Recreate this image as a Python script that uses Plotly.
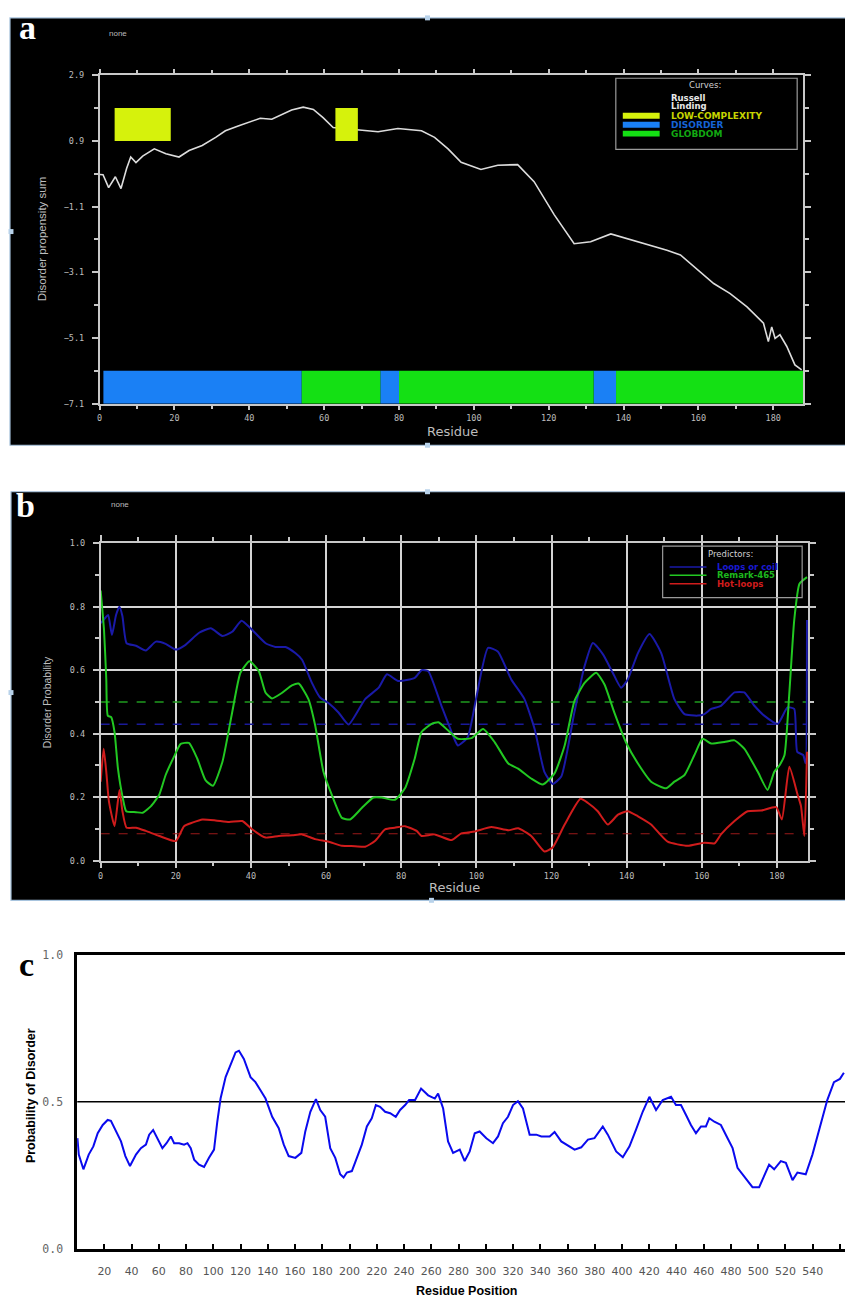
import plotly.graph_objects as go

# ---------------- data: panel a (GlobPlot) ----------------
A_X = [0, 0.9, 2.4, 4.2, 5.7, 7.2, 8.3, 9.7, 11.5, 14.6, 17.7, 21.2, 23.9, 27.4, 31.0, 33.6, 37.2, 39.8, 42.9, 46.0,
       48.7, 51.3, 54.4, 57.1, 59.7, 62.4, 68.7, 74.4, 79.7, 86.0, 89.5, 93.1, 96.6, 101.9, 106.4, 111.7, 116.1, 121.5,
       126.8, 131.2, 136.6, 141.9, 147.2, 151.6, 155.2, 159.6, 164.1, 168.5, 173.0, 177.4, 178.7, 179.6, 180.5, 181.8,
       183.6, 185.8, 187.6]
A_Y = [-0.12, -0.13, -0.52, -0.19, -0.55, 0.06, 0.41, 0.24, 0.44, 0.66, 0.51, 0.41, 0.61, 0.76, 1.01, 1.21, 1.36, 1.46,
       1.59, 1.56, 1.71, 1.84, 1.93, 1.86, 1.61, 1.31, 1.24, 1.18, 1.28, 1.21, 1.01, 0.66, 0.25, 0.03, 0.16, 0.18, -0.34,
       -1.35, -2.23, -2.17, -1.93, -2.10, -2.27, -2.43, -2.57, -3.0, -3.44, -3.75, -4.15, -4.65, -5.21, -4.76, -5.11,
       -5.0, -5.35, -5.92, -6.07]
LOW_COMPLEXITY = [(4, 19), (63, 69)]
DISORDER = [(1, 54), (75, 80), (132, 138)]
GLOBDOM = [(54, 75), (80, 132), (138, 188)]
LOWC_BAND = (0.9, 1.9)
DOMAIN_BAND = (-7.1, -6.1)
A_LEGEND = ["Russell", "Linding", "LOW-COMPLEXITY", "DISORDER", "GLOBDOM"]

# ---------------- data: panel b (DisEMBL) ----------------
B_LOOPS_X = [0, 1.1, 2.0, 3.0, 4.1, 5.0, 5.8, 6.9, 9.4, 12.0, 14.7, 17.3, 20.0, 22.6, 26.2, 29.3, 32.4, 35.0, 37.5,
             39.9, 43.9, 46.5, 49.2, 51.8, 53.6, 56.2, 58.4, 60.7, 63.3, 66.0, 70.4, 74.0, 76.2, 79.2, 83.6, 85.4, 87.2,
             90.7, 94.3, 95.1, 97.7, 99.9, 103.1, 105.7, 109.3, 112.8, 115.5, 118.1, 120.3, 122.6, 126.1, 128.8, 131.0,
             133.7, 136.3, 138.5, 140.3, 143.0, 146.1, 149.2, 152.7, 155.4, 158.9, 160.7, 162.5, 165.1, 168.7, 171.3,
             174.0, 176.6, 180.2, 182.8, 184.6, 185.4, 187.0, 187.6, 188.0]
B_LOOPS_Y = [0.748, 0.763, 0.774, 0.711, 0.774, 0.80, 0.77, 0.685, 0.677, 0.662, 0.690, 0.683, 0.665, 0.680, 0.718,
             0.732, 0.708, 0.721, 0.756, 0.732, 0.685, 0.673, 0.673, 0.654, 0.633, 0.561, 0.514, 0.496, 0.467, 0.429,
             0.509, 0.545, 0.587, 0.566, 0.576, 0.60, 0.597, 0.488, 0.379, 0.363, 0.389, 0.509, 0.670, 0.659, 0.571,
             0.509, 0.415, 0.28, 0.242, 0.265, 0.468, 0.613, 0.686, 0.650, 0.592, 0.545, 0.571, 0.654, 0.714, 0.654,
             0.509, 0.462, 0.457, 0.462, 0.478, 0.488, 0.530, 0.530, 0.488, 0.457, 0.431, 0.483, 0.478, 0.343, 0.333,
             0.307, 0.758]
B_REMARK_X = [0, 0.9, 1.5, 1.9, 2.8, 3.7, 4.6, 5.9, 6.8, 9.4, 11.2, 13.4, 15.6, 17.3, 19.5, 21.3, 23.5, 25.7, 27.9,
              29.9, 32.4, 35.0, 37.2, 39.6, 42.1, 43.9, 45.6, 48.3, 50.9, 52.7, 55.3, 57.1, 59.3, 61.5, 64.2, 66.4,
              69.5, 72.6, 74.8, 78.3, 81.0, 83.6, 85.4, 88.1, 89.9, 92.5, 95.1, 98.7, 101.8, 104.9, 108.5, 111.1,
              114.6, 117.7, 120.8, 123.5, 126.1, 128.8, 131.9, 134.1, 136.7, 139.8, 143.0, 146.5, 150.5, 152.7, 155.4,
              158.0, 160.2, 162.5, 166.0, 168.7, 171.3, 174.9, 177.5, 179.3, 180.7, 182.0, 183.3, 184.6, 186.0, 188.0]
B_REMARK_Y = [0.851, 0.726, 0.571, 0.457, 0.452, 0.405, 0.291, 0.197, 0.156, 0.153, 0.151, 0.172, 0.208, 0.270,
              0.327, 0.368, 0.371, 0.322, 0.254, 0.236, 0.311, 0.467, 0.592, 0.628, 0.597, 0.529, 0.511, 0.529, 0.552,
              0.558, 0.509, 0.426, 0.28, 0.208, 0.135, 0.130, 0.166, 0.199, 0.199, 0.192, 0.228, 0.322, 0.405, 0.431,
              0.436, 0.410, 0.384, 0.386, 0.415, 0.373, 0.306, 0.290, 0.259, 0.240, 0.275, 0.363, 0.503, 0.560, 0.592,
              0.555, 0.467, 0.373, 0.306, 0.249, 0.228, 0.249, 0.270, 0.332, 0.384, 0.369, 0.374, 0.379, 0.353, 0.280,
              0.223, 0.280, 0.301, 0.332, 0.529, 0.758, 0.872, 0.893]
B_HOT_X = [0, 0.8, 1.5, 2.2, 3.7, 5.0, 5.8, 6.9, 9.4, 12.0, 15.6, 20.0, 22.2, 24.4, 27.1, 30.6, 34.2, 37.7, 40.3, 43.9,
           47.4, 51.0, 53.6, 57.1, 60.7, 64.2, 67.7, 70.4, 73.0, 75.7, 78.3, 81.0, 84.1, 85.4, 88.9, 93.4, 96.0, 99.5,
           104.0, 108.5, 111.1, 114.6, 118.1, 120.3, 123.5, 127.7, 129.7, 132.3, 135.0, 137.7, 140.3, 143.0, 146.5,
           150.9, 156.2, 160.7, 163.4, 165.1, 168.7, 172.2, 175.8, 179.8, 181.3, 183.3, 185.5, 186.4, 187.3, 188.0]
B_HOT_Y = [0.249, 0.353, 0.280, 0.187, 0.109, 0.223, 0.156, 0.104, 0.104, 0.094, 0.078, 0.062, 0.109, 0.120, 0.130,
           0.127, 0.122, 0.125, 0.099, 0.073, 0.078, 0.080, 0.083, 0.068, 0.060, 0.047, 0.046, 0.044, 0.062, 0.099,
           0.104, 0.109, 0.094, 0.078, 0.083, 0.065, 0.086, 0.092, 0.106, 0.096, 0.102, 0.078, 0.029, 0.042, 0.114,
           0.195, 0.182, 0.156, 0.114, 0.145, 0.156, 0.140, 0.114, 0.060, 0.047, 0.057, 0.055, 0.083, 0.125, 0.156,
           0.158, 0.169, 0.130, 0.296, 0.208, 0.172, 0.078, 0.343]
B_THRESH = {"loops": 0.43, "remark": 0.5, "hot": 0.085}
B_LEGEND = ["Loops or coil", "Remark-465", "Hot-loops"]

# ---------------- data: panel c ----------------
C_X = [0.2, 1.2, 4.6, 7.1, 8.5, 11.9, 15.1, 18.8, 22.4, 24.8, 28.6, 32.2, 35.4, 38.8, 43.2, 46.8, 50.5, 52.9, 55.8,
       59.0, 62.6, 65.6, 68.8, 71.2, 74.9, 78.5, 81.0, 83.4, 85.9, 89.5, 93.2, 96.8, 100.5, 102.9, 105.3, 109.0, 112.6,
       116.3, 118.8, 122.4, 127.3, 130.9, 134.6, 138.3, 143.2, 148.0, 151.7, 155.3, 160.2, 164.6, 167.5, 171.2, 175.3,
       178.5, 182.1, 185.8, 189.5, 193.1, 195.6, 198.0, 201.7, 205.3, 209.0, 212.7, 216.3, 219.3, 222.4, 226.1, 229.8,
       233.9, 237.1, 240.8, 243.7, 248.1, 252.5, 257.7, 262.6, 265.0, 268.7, 272.3, 276.0, 280.9, 284.5, 288.2, 291.9,
       295.5, 300.4, 305.3, 309.0, 312.6, 316.3, 320.0, 323.6, 327.3, 332.2, 337.1, 340.8, 346.9, 350.5, 355.4, 360.3,
       365.2, 370.1, 375.0, 379.8, 385.9, 389.6, 395.7, 400.6, 405.5, 410.3, 415.2, 420.1, 425.0, 429.9, 436.0, 439.6,
       443.3, 447.0, 450.6, 454.3, 458.0, 461.6, 464.1, 467.8, 472.6, 477.5, 481.2, 484.8, 488.5, 492.2, 495.8, 500.7,
       504.4, 508.0, 511.7, 516.6, 520.3, 525.2, 528.8, 534.9, 539.8, 544.6, 550.7, 555.6, 560.0, 562.9]
C_Y = [0.376, 0.320, 0.270, 0.298, 0.320, 0.348, 0.393, 0.421, 0.438, 0.435, 0.399, 0.365, 0.315, 0.281, 0.320, 0.342,
       0.354, 0.388, 0.404, 0.376, 0.342, 0.359, 0.382, 0.359, 0.359, 0.354, 0.359, 0.342, 0.303, 0.286, 0.278, 0.309,
       0.337, 0.432, 0.511, 0.584, 0.623, 0.668, 0.674, 0.646, 0.584, 0.567, 0.539, 0.511, 0.449, 0.410, 0.354, 0.315,
       0.309, 0.326, 0.399, 0.466, 0.509, 0.472, 0.449, 0.342, 0.309, 0.253, 0.242, 0.259, 0.264, 0.309, 0.354, 0.416,
       0.444, 0.489, 0.483, 0.466, 0.461, 0.449, 0.472, 0.489, 0.506, 0.506, 0.545, 0.522, 0.511, 0.528, 0.477, 0.365,
       0.326, 0.337, 0.298, 0.331, 0.393, 0.399, 0.376, 0.359, 0.382, 0.427, 0.449, 0.489, 0.502, 0.477, 0.388, 0.388,
       0.382, 0.382, 0.397, 0.365, 0.351, 0.337, 0.345, 0.371, 0.376, 0.416, 0.388, 0.331, 0.311, 0.348, 0.405, 0.466,
       0.517, 0.472, 0.506, 0.517, 0.489, 0.489, 0.455, 0.421, 0.393, 0.416, 0.416, 0.444, 0.432, 0.421, 0.376, 0.342,
       0.275, 0.253, 0.230, 0.209, 0.209, 0.247, 0.286, 0.270, 0.298, 0.292, 0.233, 0.259, 0.253, 0.320, 0.404, 0.506,
       0.567, 0.578, 0.599]
C_THRESHOLD = 0.5
C_XTICKS = list(range(20, 561, 20))
C_YTICKS = [0.0, 0.5, 1.0]

assert len(A_X) == len(A_Y)
assert len(B_LOOPS_X) == len(B_LOOPS_Y)
assert len(B_REMARK_X) == len(B_REMARK_Y)
assert len(B_HOT_X) == len(B_HOT_Y)
assert len(C_X) == len(C_Y)

# ---------------- styling ----------------
W, H = 845, 1306
def fx(p): return p / W
def fy(p): return 1 - p / H

YELLOW = "#d6f20c"
BLUE_A = "#1a80f5"
GREEN_A = "#14e014"
GREY = "#c8c8c8"
TICKFONT = dict(family="DejaVu Sans Mono", size=8.5, color="#bdbdbd")
BLUE_B, GREEN_B, RED_B = "#1a1aa8", "#22c822", "#d01c1c"

fig = go.Figure()

def segs(segments, y0, y1):
    xs, ys = [], []
    for a, b in segments:
        xs += [a, b, b, a, a, None]
        ys += [y0, y0, y1, y1, y0, None]
    return xs, ys

# panel a traces
for segments, (y0, y1), col in [(DISORDER, DOMAIN_BAND, BLUE_A), (GLOBDOM, DOMAIN_BAND, GREEN_A)]:
    xs, ys = segs(segments, y0, y1)
    fig.add_trace(go.Scatter(x=xs, y=ys, fill="toself", fillcolor=col, mode="none",
                             xaxis="x", yaxis="y", hoverinfo="skip"))
fig.add_trace(go.Scatter(x=A_X, y=A_Y, mode="lines", line=dict(color="#dcdcdc", width=1.6),
                         xaxis="x", yaxis="y", name="Russell Linding"))
xs, ys = segs(LOW_COMPLEXITY, *LOWC_BAND)
fig.add_trace(go.Scatter(x=xs, y=ys, fill="toself", fillcolor=YELLOW, mode="none",
                         xaxis="x", yaxis="y", hoverinfo="skip"))

# panel b traces
xmax_b = 188
for val, col, w, dash in [(B_THRESH["remark"], "#1f9a1f", 1.6, "dash"),
                          (B_THRESH["loops"], "#1a1a9a", 1.6, "dash"),
                          (B_THRESH["hot"], "#9a1a1a", 1.0, "dash")]:
    fig.add_trace(go.Scatter(x=[0, xmax_b], y=[val, val], mode="lines",
                             line=dict(color=col, width=w, dash=dash), xaxis="x2", yaxis="y2"))
for xs_, ys_, col in [(B_LOOPS_X, B_LOOPS_Y, BLUE_B), (B_REMARK_X, B_REMARK_Y, GREEN_B), (B_HOT_X, B_HOT_Y, RED_B)]:
    fig.add_trace(go.Scatter(x=xs_, y=ys_, mode="lines", line=dict(color=col, width=2, shape="spline", smoothing=0.5),
                             xaxis="x2", yaxis="y2"))

# panel c traces
fig.add_trace(go.Scatter(x=[0, 600], y=[C_THRESHOLD, C_THRESHOLD], mode="lines",
                         line=dict(color="black", width=1.6), xaxis="x3", yaxis="y3"))
fig.add_trace(go.Scatter(x=C_X, y=C_Y, mode="lines", line=dict(color="#0a0aee", width=2),
                         xaxis="x3", yaxis="y3"))

# ---------------- axes ----------------
fig.update_layout(
    xaxis=dict(domain=[fx(97), fx(803)], range=[0, 188], anchor="y", dtick=20, tick0=0,
               showgrid=False, zeroline=False, showline=True, linecolor=GREY, linewidth=1.5, mirror="ticks",
               ticks="outside", ticklen=5, tickcolor=GREY, tickwidth=1.5, tickfont=TICKFONT,
               minor=dict(dtick=10, ticks="outside", ticklen=4, tickcolor=GREY, showgrid=False)),
    yaxis=dict(domain=[fy(401), fy(69)], range=[-7.1, 2.9], anchor="x", dtick=2, tick0=-7.1, tickformat=".1f",
               showgrid=False, zeroline=False, showline=True, linecolor=GREY, linewidth=1.5, mirror="ticks",
               ticks="outside", ticklen=6, tickcolor=GREY, tickwidth=1.5, tickfont=TICKFONT, ticklabelstandoff=6,
               minor=dict(dtick=1, tick0=-7.1, ticks="outside", ticklen=4, tickcolor=GREY, showgrid=False)),
    xaxis2=dict(domain=[fx(98), fx(808)], range=[0, 188.3], anchor="y2", dtick=20, tick0=0,
                showgrid=True, gridcolor="#d4d4d4", gridwidth=1.5, zeroline=False, showline=True, linecolor=GREY,
                linewidth=1.5, mirror="ticks", ticks="outside", ticklen=6, tickcolor=GREY, tickwidth=1.5,
                tickfont=TICKFONT,
                minor=dict(dtick=10, ticks="outside", ticklen=4, tickcolor=GREY, showgrid=False)),
    yaxis2=dict(domain=[fy(863), fy(542)], range=[0, 1.0], anchor="x2", dtick=0.2, tickformat=".1f",
                showgrid=True, gridcolor="#d4d4d4", gridwidth=1.5, zeroline=False, showline=True, linecolor=GREY,
                linewidth=1.5, mirror="ticks", ticks="outside", ticklen=6, tickcolor=GREY, tickwidth=1.5,
                tickfont=TICKFONT, ticklabelstandoff=6,
                minor=dict(dtick=0.1, ticks="outside", ticklen=4, tickcolor=GREY, showgrid=False)),
    xaxis3=dict(domain=[fx(74.4), 1.0], range=[0, (845 - 74.4) / 1.367], anchor="y3",
                tickvals=C_XTICKS, ticktext=[str(v) for v in C_XTICKS],
                showgrid=False, zeroline=False, showline=True, linecolor="black", linewidth=2.5, mirror=True,
                ticks="inside", ticklen=5, tickcolor="black", tickwidth=1.5, ticklabelstandoff=11,
                tickfont=dict(family="DejaVu Sans", size=11, color="#555555")),
    yaxis3=dict(domain=[fy(1255), fy(958.3)], range=[0, 1.0], anchor="x3",
                tickvals=C_YTICKS, tickformat=".1f",
                showgrid=False, zeroline=False, showline=True, linecolor="black", linewidth=2.5,
                ticks="", ticklabelstandoff=9,
                tickfont=dict(family="DejaVu Sans Mono", size=11.5, color="#666666")),
)

# ---------------- background panels ----------------
shapes = [
    dict(type="rect", xref="paper", yref="paper", x0=fx(7), x1=fx(846), y0=fy(443), y1=fy(11),
         fillcolor="black", line=dict(color="#a8c4de", width=1.2), layer="below"),
    dict(type="rect", xref="paper", yref="paper", x0=fx(8), x1=fx(846), y0=fy(903), y1=fy(490),
         fillcolor="black", line=dict(color="#a8c4de", width=1.2), layer="below"),
    # legend a
    dict(type="rect", xref="paper", yref="paper", x0=fx(615), x1=fx(797), y0=fy(144), y1=fy(72),
         line=dict(color="#9a9a9a", width=1.2), fillcolor="rgba(0,0,0,0)"),
    # legend b
    dict(type="rect", xref="paper", yref="paper", x0=fx(662), x1=fx(802), y0=fy(597), y1=fy(545),
         line=dict(color="#9a9a9a", width=1.2), fillcolor="rgba(0,0,0,0)"),
]
for (y0, y1), col in zip([(107, 113), (116, 122), (125, 131)], [YELLOW, BLUE_A, GREEN_A]):
    shapes.append(dict(type="rect", xref="paper", yref="paper", x0=fx(622), x1=fx(659), y0=fy(y1), y1=fy(y0),
                       fillcolor=col, line=dict(width=0)))
for yy, col in zip([566, 574.5, 583], [BLUE_B, GREEN_B, RED_B]):
    shapes.append(dict(type="line", xref="paper", yref="paper", x0=fx(669), x1=fx(706), y0=fy(yy), y1=fy(yy),
                       line=dict(color=col, width=1.5)))
# small frame handles around the two pasted panels
for hx, hy in [(426, 11), (426, 443), (8, 227), (426, 490), (430, 903), (8, 693)]:
    shapes.append(dict(type="rect", xref="paper", yref="paper", x0=fx(hx - 2.5), x1=fx(hx + 2.5),
                       y0=fy(hy + 2.5), y1=fy(hy - 2.5), fillcolor="#b8d2ea", line=dict(width=0)))
fig.update_layout(shapes=shapes)

# ---------------- annotations ----------------
def ann(text, x, y, size=10, color="#c0c0c0", family="Liberation Sans", xanchor="center", textangle=0, bold=False):
    return dict(text=("<b>%s</b>" % text) if bold else text, x=fx(x), y=fy(y), xref="paper", yref="paper",
                showarrow=False, xanchor=xanchor, yanchor="middle", textangle=textangle,
                font=dict(family=family, size=size, color=color))

annotations = [
    ann("a", 25, 21, size=34, color="white", family="Liberation Serif", bold=True),
    ann("b", 23, 504, size=34, color="white", family="Liberation Serif", bold=True),
    ann("c", 24, 968, size=34, color="black", family="Liberation Serif", bold=True),
    ann("none", 115, 27, size=8, color="#bbbbbb"),
    ann("none", 117, 503, size=8, color="#bbbbbb"),
    ann("Disorder propensity sum", 40, 234, size=11.5, color="#bdbdbd", textangle=-90),
    ann("Residue", 451, 429, size=13, color="#bdbdbd", family="DejaVu Sans"),
    ann("Disorder Probability", 45, 703, size=10.5, color="#bdbdbd", textangle=-90),
    ann("Residue", 453, 890, size=13, color="#bdbdbd", family="DejaVu Sans"),
    ann("Probability of Disorder", 28, 1100, size=12.5, color="black", family="Liberation Sans", textangle=-90, bold=True),
    ann("Residue Position", 465, 1298, size=12.5, color="black", family="Liberation Sans", bold=True),
    # legend a
    ann("Curves:", 705, 79, size=8.5, color="#d0d0d0", family="DejaVu Sans"),
    ann(A_LEGEND[0], 668, 91.5, size=8.5, color="#e8e8e8", family="DejaVu Sans", xanchor="left", bold=True),
    ann(A_LEGEND[1], 668, 100.5, size=8.5, color="#e8e8e8", family="DejaVu Sans", xanchor="left", bold=True),
    ann(A_LEGEND[2], 668, 110, size=9, color="#c6d400", family="DejaVu Sans", xanchor="left", bold=True),
    ann(A_LEGEND[3], 668, 119, size=9, color="#1563d6", family="DejaVu Sans", xanchor="left", bold=True),
    ann(A_LEGEND[4], 668, 128, size=9, color="#12a812", family="DejaVu Sans", xanchor="left", bold=True),
    # legend b
    ann("Predictors:", 730, 553, size=8.5, color="#d0d0d0", family="DejaVu Sans"),
    ann(B_LEGEND[0], 715, 566, size=8.5, color="#1a1ad0", family="DejaVu Sans", xanchor="left", bold=True),
    ann(B_LEGEND[1], 715, 574.5, size=8.5, color="#1db81d", family="DejaVu Sans", xanchor="left", bold=True),
    ann(B_LEGEND[2], 715, 583, size=8.5, color="#d01c1c", family="DejaVu Sans", xanchor="left", bold=True),
]
fig.update_layout(annotations=annotations)

fig.update_layout(width=W, height=H, margin=dict(l=0, r=0, t=0, b=0), paper_bgcolor="white",
                  plot_bgcolor="rgba(0,0,0,0)", showlegend=False)

fig.write_html("out.html", config={"displayModeBar": False},
               post_script="document.body.style.margin='0';")
